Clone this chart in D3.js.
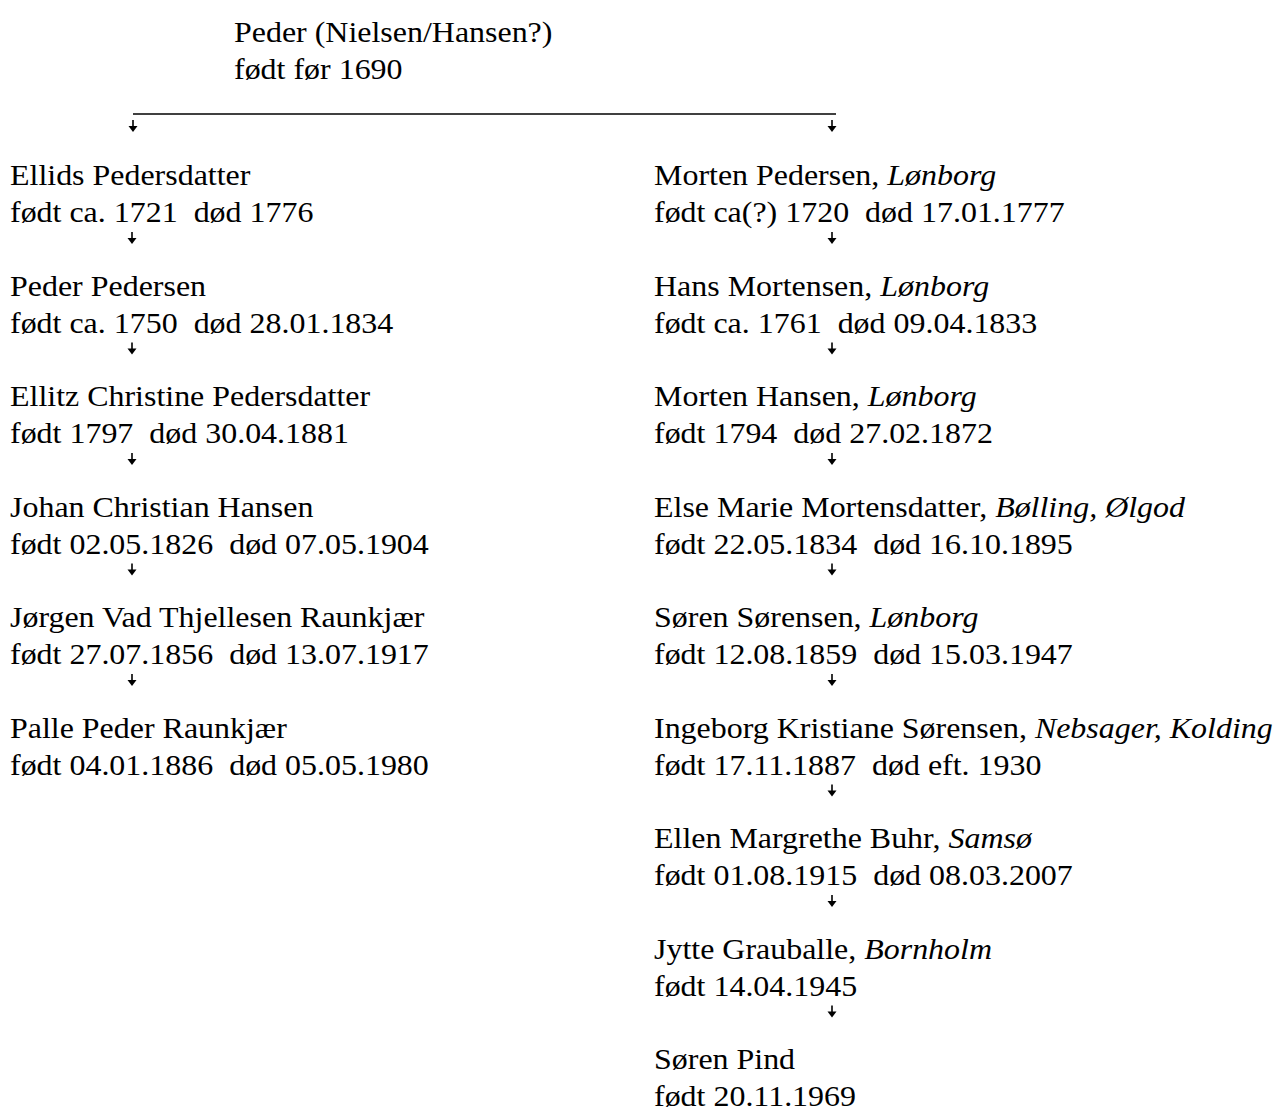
<!DOCTYPE html>
<html>
<head>
<meta charset="utf-8">
<script src="https://cdn.jsdelivr.net/npm/d3@7"></script>
<style>
  body { margin: 0; background: #fff; }
  svg text { font-family: "Liberation Serif", "Times New Roman", serif; font-size: 30px; fill: #000; white-space: pre; }
</style>
</head>
<body>
<svg id="chart" width="1278" height="1108"></svg>
<script>
// stamfar
var rootName = 'Peder (Nielsen/Hansen?)';
var rootDate = 'født før 1690';

// venstre gren
var leftNames = ['Ellids Pedersdatter', 'Peder Pedersen', 'Ellitz Christine Pedersdatter',
  'Johan Christian Hansen', 'Jørgen Vad Thjellesen Raunkjær', 'Palle Peder Raunkjær'];
var leftPlaces = ['', '', '', '', '', ''];
var leftDates = ['født ca. 1721  død 1776', 'født ca. 1750  død 28.01.1834', 'født 1797  død 30.04.1881',
  'født 02.05.1826  død 07.05.1904', 'født 27.07.1856  død 13.07.1917', 'født 04.01.1886  død 05.05.1980'];

// højre gren
var rightNames = ['Morten Pedersen', 'Hans Mortensen', 'Morten Hansen', 'Else Marie Mortensdatter',
  'Søren Sørensen', 'Ingeborg Kristiane Sørensen', 'Ellen Margrethe Buhr', 'Jytte Grauballe', 'Søren Pind'];
var rightPlaces = ['Lønborg', 'Lønborg', 'Lønborg', 'Bølling, Ølgod', 'Lønborg',
  'Nebsager, Kolding', 'Samsø', 'Bornholm', ''];
var rightDates = ['født ca(?) 1720  død 17.01.1777', 'født ca. 1761  død 09.04.1833', 'født 1794  død 27.02.1872',
  'født 22.05.1834  død 16.10.1895', 'født 12.08.1859  død 15.03.1947', 'født 17.11.1887  død eft. 1930',
  'født 01.08.1915  død 08.03.2007', 'født 14.04.1945', 'født 20.11.1969'];

var svg = d3.select('#chart');

// generation -> y (baseline of name line)
var y = d3.scaleLinear().domain([0, 8]).range([185, 185 + 8 * 110.5]);
var lineGap = 37;
var sx = 1.065; // the scan is a bit wider than the font

var label = function(x, yy) {
  return svg.append('text').attr('xml:space', 'preserve')
    .attr('transform', 'translate(' + x + ',' + yy + ') scale(' + sx + ',1)');
};

var arrow = function(cx, cy) {
  var g = svg.append('g').attr('transform', 'translate(' + cx + ',' + cy + ')');
  g.append('line').attr('x1', 0).attr('x2', 0).attr('y1', -6).attr('y2', 2)
    .attr('stroke', '#000').attr('stroke-width', 1.6);
  g.append('path').attr('d', 'M-4.5,0 L4.5,0 L0,6 Z').attr('fill', '#000');
};

// top
label(234, 42).text(rootName);
label(234, 79).text(rootDate);
svg.append('line').attr('x1', 133).attr('x2', 836).attr('y1', 114).attr('y2', 114)
  .attr('stroke', '#000').attr('stroke-width', 1.5);
arrow(133, 126);
arrow(832, 126);

var column = function(x, names, places, dates, ax) {
  names.forEach(function(n, i) {
    var t = label(x, y(i));
    t.append('tspan').text(n + (places[i] ? ',' : ''));
    if (places[i]) t.append('tspan').attr('font-style', 'italic').text(' ' + places[i]);
    label(x, y(i) + lineGap).text(dates[i]);
    if (i < names.length - 1) arrow(ax, y(i) + 53);
  });
};

column(10, leftNames, leftPlaces, leftDates, 132);
column(654, rightNames, rightPlaces, rightDates, 832);
</script>
</body>
</html>
